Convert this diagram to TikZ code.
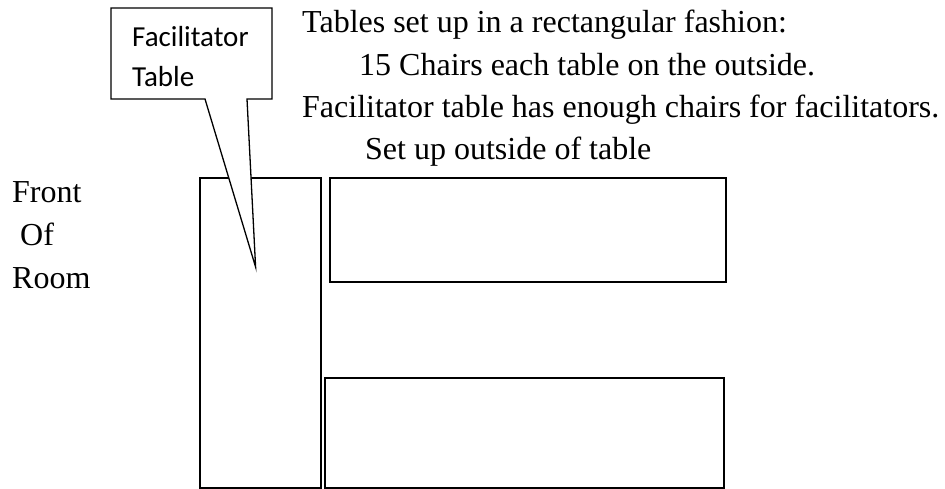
\documentclass[tikz,border=0pt]{standalone}
\usepackage{fontspec}
\setmainfont{Liberation Serif}
\newfontfamily\calfont{Carlito}
\begin{document}
\begin{tikzpicture}[x=1pt,y=-1pt,
  tbl/.style={draw=black,line width=1.8pt,fill=none,inner sep=0pt,outer sep=0pt,anchor=north west},
  serif/.style={font=\fontsize{32}{38}\selectfont,inner sep=0pt,anchor=base west},
  call/.style={font=\calfont\fontsize{29}{35}\selectfont,inner sep=0pt,anchor=base west},
  callout/.style={draw=black,line width=1.3pt,fill=white,line join=miter}]
\useasboundingbox[fill=white] (0,0) rectangle (945,489);
% tables
\node[tbl,minimum width=121pt,minimum height=310pt] (ft) at (200,178) {};
\node[tbl,minimum width=396pt,minimum height=104pt] (t1) at (330,178) {};
\node[tbl,minimum width=399pt,minimum height=110pt] (t2) at (325,378) {};
% callout
\coordinate (c1) at (111,8);
\coordinate (c2) at (272,8);
\coordinate (c3) at (272,99);
\coordinate (p1) at (247,99);
\coordinate (tip) at (255.6,267);
\coordinate (p2) at (205,99);
\coordinate (c4) at (111,99);
\draw[callout] (c1) -- (c2) -- (c3) -- (p1) -- (tip) -- (p2) -- (c4) -- cycle;
\node[call] (cl1) at (132,47) {Facilitator};
\node[call] (cl2) at (132,87) {Table};
% texts
\node[serif] (l1) at (302,33) {Tables set up in a rectangular fashion:};
\node[serif] (l2) at (359,76) {15 Chairs each table on the outside.};
\node[serif] (l3) at (302,118) {Facilitator table has enough chairs for facilitators.};
\node[serif] (l4) at (365,160) {Set up outside of table};
\node[serif] (f1) at (12,203) {Front};
\node[serif] (f2) at (20,245) {Of};
\node[serif] (f3) at (12,288) {Room};
\end{tikzpicture}
\end{document}
